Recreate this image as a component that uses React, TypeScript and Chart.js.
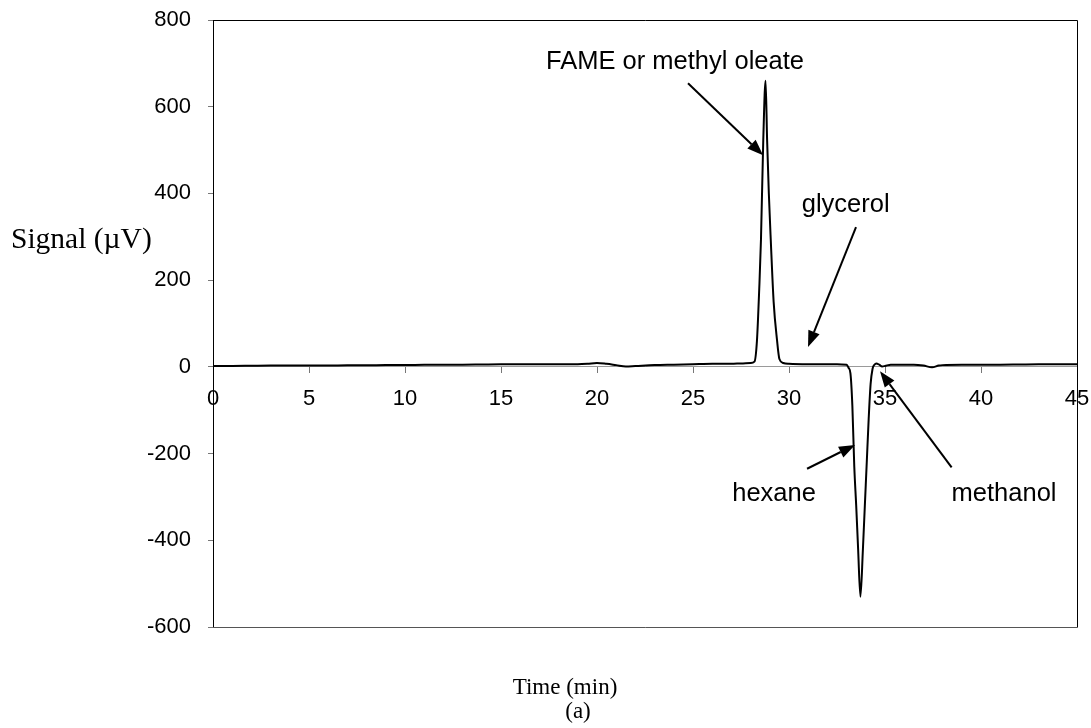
import React, { useEffect, useRef } from "react";
import { Chart, registerables } from "chart.js";

Chart.register(...registerables);

// Retention time (min) and detector signal (µV) of the chromatogram trace
const timeMin = [
  0, 1, 2, 3, 4, 5, 6, 7, 8, 9, 10, 11, 12, 13, 14, 15, 16, 17, 18, 19,
  19.5, 20, 20.5, 21, 21.5, 22, 23, 24, 25, 26, 27,
  27.5, 28, 28.2, 28.33, 28.45, 28.54, 28.66, 28.78, 28.86, 28.95, 29.05, 29.2, 29.375, 29.5, 29.7,
  30, 31, 32, 32.5, 33,
  33.1, 33.2, 33.3, 33.4, 33.5, 33.6, 33.72, 33.85, 33.95, 34.05, 34.15, 34.25, 34.35, 34.45, 34.55, 34.7, 34.85, 35, 35.3,
  36, 36.5, 37, 37.45, 37.8, 38,
  39, 40, 41, 42, 43, 44, 45,
];
const signalUV = [
  2, 2, 2.5, 3, 3, 3, 3, 3.5, 3.5, 4, 4, 5, 5, 5, 5.5, 6, 6, 6, 6, 6,
  7, 9, 7, 4, 1, 2, 4, 5, 6, 7, 7,
  8, 9, 12, 60, 180, 293, 523, 660, 523, 400, 293, 150, 62, 18, 9,
  7, 6, 6, 6, 5,
  -2, -15, -90, -230, -320, -420, -530, -420, -320, -220, -120, -40, -5, 5, 8, 5, 1, 2, 5,
  5, 5, 3, -1, 3, 4,
  5, 5, 5, 5.5, 6, 6, 6,
];

// Axis ranges and tick spacing
const xRange = [0, 45];
const xStep = 5;
const yRange = [-600, 800];
const yStep = 200;

// Axis titles
const yTitle = "Signal (\u00B5V)";
const xTitle = "Time (min)";
const panelTag = "(a)";

// Peak labels with their text anchor and arrow (tail -> head), in data units [min, µV]
const peakNames = ["FAME or methyl oleate", "glycerol", "hexane", "methanol"];
const peakTextAt = [
  [24.06, 703],
  [32.95, 374],
  [29.22, -294],
  [41.2, -294],
];
const arrowTail = [
  [24.74, 654],
  [33.49, 322],
  [30.94, -235],
  [38.47, -232],
];
const arrowHead = [
  [28.65, 488],
  [30.99, 46],
  [33.44, -180],
  [34.74, -10],
];

const SANS = "'Liberation Sans', Arial, sans-serif";
const SERIF = "'Liberation Serif', 'Times New Roman', serif";

const decorPlugin = {
  id: "decor",
  afterDatasetsDraw(chart: any) {
    const { ctx, chartArea, scales } = chart;
    const xs = scales.x;
    const ys = scales.y;
    ctx.save();

    // plot frame (top, right, bottom)
    ctx.strokeStyle = "#000";
    ctx.lineWidth = 1;
    ctx.beginPath();
    ctx.moveTo(chartArea.left, chartArea.top + 0.5);
    ctx.lineTo(chartArea.right + 0.5, chartArea.top + 0.5);
    ctx.lineTo(chartArea.right + 0.5, chartArea.bottom + 0.5);
    ctx.stroke();
    ctx.strokeStyle = "#555";
    ctx.beginPath();
    ctx.moveTo(chartArea.left, chartArea.bottom + 0.5);
    ctx.lineTo(chartArea.right + 0.5, chartArea.bottom + 0.5);
    ctx.stroke();

    // peak labels and arrows
    ctx.fillStyle = "#000";
    ctx.font = `25.5px ${SANS}`;
    ctx.textAlign = "center";
    ctx.textBaseline = "middle";
    peakNames.forEach((name, i) => {
      const [tx, ty] = peakTextAt[i];
      ctx.fillText(name, xs.getPixelForValue(tx), ys.getPixelForValue(ty));

      const x0 = xs.getPixelForValue(arrowTail[i][0]);
      const y0 = ys.getPixelForValue(arrowTail[i][1]);
      const x1 = xs.getPixelForValue(arrowHead[i][0]);
      const y1 = ys.getPixelForValue(arrowHead[i][1]);
      const ang = Math.atan2(y1 - y0, x1 - x0);
      const headLen = 16;
      const headHalf = 6;
      const bx = x1 - headLen * Math.cos(ang);
      const by = y1 - headLen * Math.sin(ang);
      ctx.strokeStyle = "#000";
      ctx.lineWidth = 2;
      ctx.beginPath();
      ctx.moveTo(x0, y0);
      ctx.lineTo(bx, by);
      ctx.stroke();
      ctx.beginPath();
      ctx.moveTo(x1, y1);
      ctx.lineTo(bx + headHalf * Math.sin(ang), by - headHalf * Math.cos(ang));
      ctx.lineTo(bx - headHalf * Math.sin(ang), by + headHalf * Math.cos(ang));
      ctx.closePath();
      ctx.fill();
    });

    // axis titles
    ctx.textAlign = "left";
    ctx.font = `29.5px ${SERIF}`;
    ctx.fillText(yTitle, 11, 240);
    ctx.textAlign = "center";
    ctx.font = `23px ${SERIF}`;
    ctx.fillText(xTitle, 565, 688);
    ctx.fillText(panelTag, 578, 712);
    ctx.restore();
  },
};

export default function App() {
  const canvasRef = useRef<HTMLCanvasElement | null>(null);

  useEffect(() => {
    document.body.style.margin = "0";
    document.body.style.overflow = "hidden";
    const canvas = canvasRef.current;
    if (!canvas) return;

    const points = timeMin.map((t, i) => ({ x: t, y: signalUV[i] }));

    const chart = new Chart(canvas, {
      type: "line",
      data: {
        datasets: [
          {
            data: points,
            borderColor: "#000",
            borderWidth: 2,
            pointRadius: 0,
            cubicInterpolationMode: "monotone",
            fill: false,
          },
        ],
      },
      options: {
        responsive: false,
        animation: false,
        events: [],
        layout: { padding: { top: 20, right: 14, bottom: 101, left: 0 } },
        plugins: {
          legend: { display: false },
          tooltip: { enabled: false },
          title: { display: false },
        },
        scales: {
          x: {
            type: "linear",
            position: { y: 0 },
            min: xRange[0],
            max: xRange[1],
            ticks: {
              stepSize: xStep,
              color: "#000",
              font: { family: SANS, size: 22 },
              padding: 13,
              maxRotation: 0,
            },
            grid: {
              drawOnChartArea: false,
              drawTicks: true,
              tickLength: 6,
              tickColor: "#777",
            },
            border: { display: true, color: "#9a9a9a", width: 1 },
            afterFit: (scale: any) => {
              scale.paddingLeft = 0;
              scale.paddingRight = 0;
            },
          },
          y: {
            type: "linear",
            position: "left",
            min: yRange[0],
            max: yRange[1],
            ticks: {
              stepSize: yStep,
              color: "#000",
              font: { family: SANS, size: 22 },
              padding: 17,
            },
            grid: {
              drawOnChartArea: false,
              drawTicks: true,
              tickLength: 5,
              tickColor: "#777",
            },
            border: { display: true, color: "#000", width: 1 },
            afterFit: (scale: any) => {
              scale.width = 213;
              scale.paddingTop = 0;
              scale.paddingBottom = 0;
            },
          },
        },
      },
      plugins: [decorPlugin],
    } as any);

    return () => chart.destroy();
  }, []);

  return (
    <div style={{ width: 1091, height: 728, background: "#fff" }}>
      <canvas
        ref={canvasRef}
        width={1091}
        height={728}
        style={{ display: "block", width: 1091, height: 728 }}
      />
    </div>
  );
}
